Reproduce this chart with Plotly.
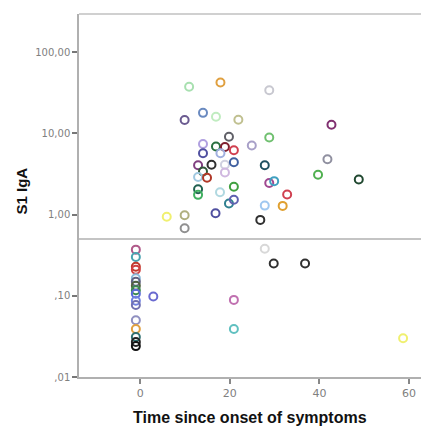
import plotly.graph_objects as go

# Time since onset of symptoms (days)
days = [
    10.9, 17.9, 28.8, 9.9, 14.0, 16.9, 21.9, 42.7, 19.8, 28.8,
    24.9, 14.0, 16.9, 18.9, 20.9, 17.9, 14.0, 41.8, 12.9, 15.9,
    18.9, 20.9, 27.8, 39.7, 48.8, 14.0, 12.9, 14.9, 18.9, 28.8,
    29.9, 12.9, 12.9, 17.8, 20.9, 32.8, 19.8, 20.9, 27.8, 31.8,
    26.8, 16.8, 5.9, 9.9, 9.9,
    27.8, 29.8, 36.8, 20.9, 20.9, 58.7, 2.9,
    -1, -1, -1, -1, -1, -1, -1, -1, -1, -1, -1, -1, -1, -1, -1, -1,
]
# S1 IgA values
iga = [
    37.5, 42.4, 34.0, 14.6, 17.9, 16.0, 14.7, 12.8, 9.1, 8.9,
    7.1, 7.4, 6.9, 6.8, 6.2, 5.7, 5.7, 4.8, 4.06, 4.1,
    4.1, 4.4, 4.06, 3.1, 2.7, 3.4, 2.9, 2.84, 3.3, 2.45,
    2.58, 2.05, 1.75, 1.88, 2.2, 1.77, 1.37, 1.52, 1.29, 1.28,
    0.86, 1.04, 0.94, 0.98, 0.68,
    0.38, 0.25, 0.25, 0.089, 0.039, 0.030, 0.098,
    0.37, 0.30, 0.228, 0.21, 0.164, 0.149, 0.133, 0.117, 0.106, 0.087,
    0.077, 0.050, 0.039, 0.031, 0.027, 0.024,
]
cutoff = 0.5

point_colors = [
    "#a8e0b0", "#e0a040", "#c8c8d0", "#6a5a90", "#6a8ac0", "#c0ecc0", "#c0c090", "#803070", "#606068", "#70c070",
    "#a8a0c8", "#b0a0e0", "#2a7040", "#802030", "#d04050", "#a0b0e0", "#5050a0", "#9090a0", "#804080", "#303030",
    "#d0d0e0", "#4060a0", "#205060", "#50b050", "#204830", "#305838", "#a0c8e0", "#b03828", "#d0b8e0", "#a04890",
    "#40a0c0", "#206050", "#40b060", "#b0d8e0", "#40a040", "#d04050", "#308090", "#6060b0", "#a0c8f0", "#e0a030",
    "#303030", "#5050a0", "#f0f070", "#b0b080", "#909090",
    "#d8d8d8", "#303030", "#303030", "#c070b0", "#60c0c0", "#f0f070", "#6a6ad0",
    "#b05a8a", "#4aa3b0", "#c0392b", "#d04040", "#8ab8d8", "#606080", "#506040", "#3a8a50", "#5a6ad8", "#7080e0",
    "#7070b0", "#9090c0", "#e0a040", "#307070", "#222222", "#111111",
]

ytick_vals = [0.01, 0.1, 1, 10, 100]
ytick_text = [",01", ",10", "1,00", "10,00", "100,00"]
xtick_vals = [0, 20, 40, 60]
x_title = "Time since onset of symptoms"
y_title = "S1 IgA"

fig = go.Figure()
fig.add_trace(go.Scatter(
    x=days, y=iga, mode="markers",
    marker=dict(symbol="circle-open", size=8, color=point_colors,
                line=dict(width=2, color=point_colors)),
    hoverinfo="x+y", showlegend=False,
))

fig.add_shape(type="line", xref="paper", x0=0, x1=1, yref="y", y0=cutoff, y1=cutoff,
              line=dict(color="#c4c4c4", width=2))
fig.add_shape(type="line", xref="paper", x0=0, x1=1, yref="paper", y0=1, y1=1,
              line=dict(color="#c0c0c0", width=1.5))

fig.add_annotation(text="<b>" + x_title + "</b>", xref="paper", yref="paper", x=0.5, y=0,
                   xanchor="center", yanchor="middle", yshift=-40, showarrow=False,
                   font=dict(family="Liberation Sans, Arial, sans-serif", size=16, color="#111"))
fig.add_annotation(text="<b>" + y_title + "</b>", xref="paper", yref="paper", x=0, y=0.5,
                   xanchor="center", yanchor="middle", xshift=-58, yshift=4, textangle=-90,
                   showarrow=False,
                   font=dict(family="Liberation Sans, Arial, sans-serif", size=15, color="#111"))

fig.update_layout(
    width=421, height=427,
    margin=dict(l=79, r=0, t=14, b=50, autoexpand=False),
    paper_bgcolor="white", plot_bgcolor="white",
    font=dict(family="DejaVu Sans, sans-serif"),
    xaxis=dict(
        range=[-13.7, 62.7], tickvals=xtick_vals, showgrid=False, zeroline=False,
        showline=True, linecolor="#b0b0b0", linewidth=1.5,
        ticks="outside", ticklen=5, tickcolor="#888", tickwidth=1.5,
        tickfont=dict(family="DejaVu Sans, sans-serif", size=11, color="#808080"),
        automargin=False, ticklabeloverflow="allow",
    ),
    yaxis=dict(
        type="log", range=[-2.0, 2.47], tickvals=ytick_vals, ticktext=ytick_text,
        showgrid=False, zeroline=False, automargin=False,
        showline=True, linecolor="#b0b0b0", linewidth=1.5,
        ticks="outside", ticklen=5, tickcolor="#777", tickwidth=1.5,
        tickfont=dict(family="DejaVu Sans, sans-serif", size=10, color="#808080"),
    ),
)

fig.write_html("out.html", config={"displayModeBar": False},
               post_script="document.body.style.margin='0';document.body.style.overflow='hidden';")
